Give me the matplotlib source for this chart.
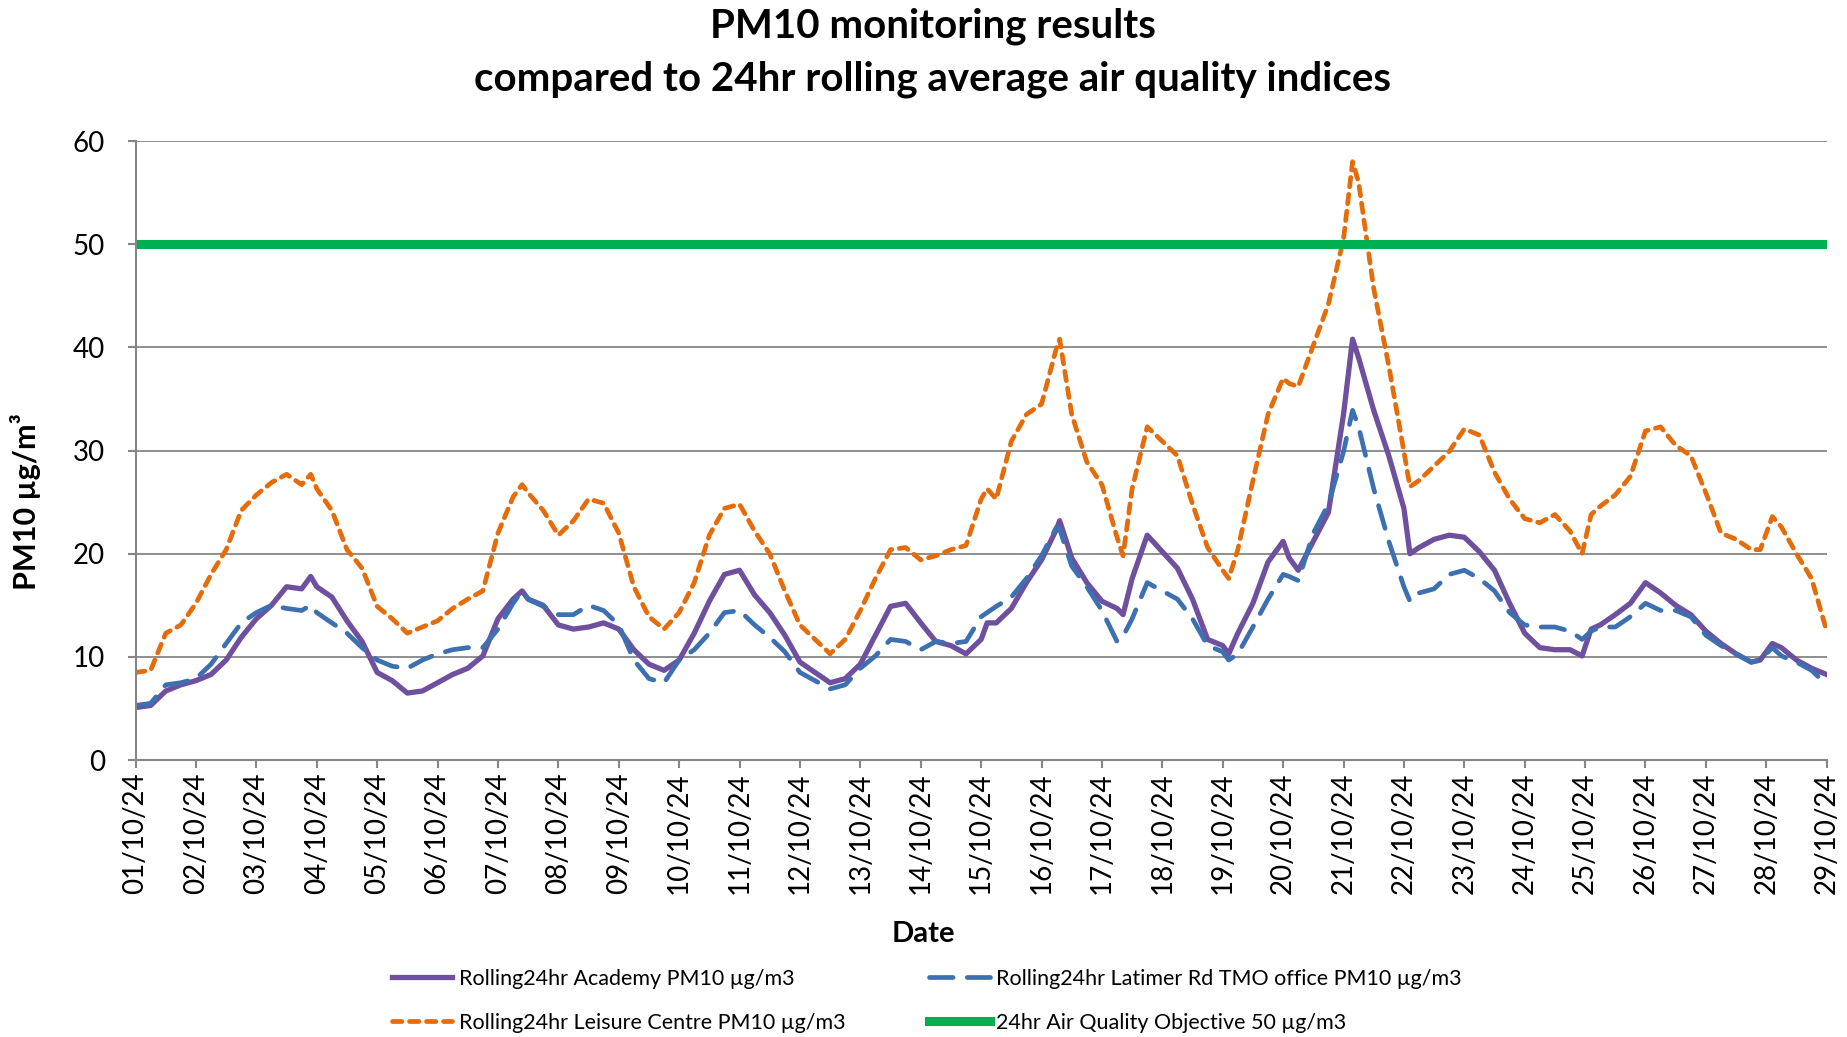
import pandas as pd
import numpy as np
import matplotlib
matplotlib.use('Agg')
import matplotlib.pyplot as plt
import matplotlib.dates as mdates

plt.rcParams['font.family'] = ['Lato', 'DejaVu Sans']

## sample times, in days after 01/10/24 00:00
start = pd.Timestamp('2024-10-01')
days = [0, 0.25, 0.5, 0.75, 1, 1.25, 1.5, 1.75, 2, 2.25, 2.5, 2.75, 2.9, 3, 3.25, 3.5, 3.75,
        4, 4.25, 4.5, 4.75, 5, 5.25, 5.5, 5.75, 6, 6.25, 6.4, 6.5, 6.75, 7, 7.25, 7.5, 7.75,
        8, 8.25, 8.5, 8.75, 9, 9.25, 9.5, 9.75, 10, 10.25, 10.5, 10.75, 11, 11.25, 11.5, 11.75,
        12, 12.25, 12.5, 12.75, 13, 13.25, 13.5, 13.75, 14, 14.1, 14.25, 14.5, 14.75, 15, 15.25, 15.3,
        15.5, 15.75, 16, 16.25, 16.35, 16.5, 16.75, 17, 17.25, 17.5, 17.75, 18, 18.1, 18.25,
        18.5, 18.75, 19, 19.1, 19.25, 19.5, 19.75, 20, 20.15, 20.25, 20.5, 20.75, 21, 21.1,
        21.25, 21.5, 21.75, 22, 22.25, 22.5, 22.75, 23, 23.25, 23.5, 23.75, 23.95, 24.1, 24.25,
        24.5, 24.75, 25, 25.25, 25.5, 25.75, 26, 26.25, 26.5, 26.75, 26.9, 27.1, 27.25, 27.5,
        27.75, 28]

## Rolling 24hr PM10 ug/m3
academy = [5.1, 5.3, 6.7, 7.3, 7.7, 8.3, 9.7, 11.9, 13.7, 15.0, 16.8, 16.6, 17.8, 16.8, 15.8, 13.5, 11.5,
           8.5, 7.7, 6.5, 6.7, 7.5, 8.3, 8.9, 10.1, 13.7, 15.6, 16.4, 15.6, 15.0, 13.1, 12.7, 12.9, 13.3,
           12.7, 10.7, 9.3, 8.7, 9.7, 12.3, 15.4, 18.0, 18.4, 16.0, 14.3, 12.1, 9.5, 8.5, 7.5, 7.9,
           9.3, 12.1, 14.9, 15.2, 13.3, 11.5, 11.1, 10.3, 11.7, 13.3, 13.3, 14.7, 17.2, 19.4, 22.4, 23.2,
           19.6, 17.2, 15.4, 14.7, 14.1, 17.6, 21.8, 20.2, 18.6, 15.6, 11.7, 11.1, 10.3, 12.3,
           15.2, 19.2, 21.2, 19.6, 18.4, 21.2, 24.0, 33.5, 40.8, 39.0, 33.9, 29.5, 24.4, 20.0,
           20.6, 21.4, 21.8, 21.6, 20.2, 18.4, 15.2, 12.3, 10.9, 10.7, 10.7, 10.1, 12.7, 13.1,
           14.1, 15.2, 17.2, 16.2, 15.0, 14.1, 12.5, 11.3, 10.3, 9.5, 9.7, 11.3, 10.9, 9.7,
           8.9, 8.3]
latimer = [5.3, 5.5, 7.3, 7.5, 7.9, 9.3, 11.3, 13.3, 14.3, 15.0, 14.7, 14.5, 15.0, 14.3, 13.3, 12.3, 10.9,
           9.7, 9.1, 8.9, 9.7, 10.3, 10.7, 10.9, 10.9, 12.7, 15.2, 16.4, 15.6, 14.9, 14.1, 14.1, 15.0, 14.5,
           13.1, 9.7, 7.9, 7.5, 9.7, 10.7, 12.3, 14.3, 14.5, 13.1, 11.9, 10.5, 8.5, 7.7, 6.9, 7.3,
           8.9, 10.1, 11.7, 11.5, 10.7, 11.5, 11.3, 11.5, 13.9, 14.3, 14.9, 15.8, 17.6, 19.8, 22.6, 22.4,
           18.8, 16.8, 14.5, 11.5, 12.0, 13.7, 17.2, 16.4, 15.6, 13.7, 11.1, 10.5, 9.7, 10.3,
           12.9, 15.6, 18.0, 17.8, 17.4, 22.0, 24.8, 29.9, 33.9, 32.3, 26.3, 21.2, 16.8, 15.4,
           16.2, 16.6, 18.0, 18.4, 17.6, 16.4, 14.3, 13.1, 12.9, 12.9, 12.5, 11.7, 12.5, 12.9,
           12.9, 13.9, 15.2, 14.5, 14.5, 13.9, 12.1, 11.1, 10.3, 9.5, 9.7, 10.9, 10.1, 9.5,
           8.7, 7.3]
leisure = [8.5, 8.7, 12.3, 13.1, 15.2, 18.0, 20.4, 24.2, 25.7, 26.9, 27.7, 26.7, 27.7, 26.3, 24.2, 20.4, 18.6,
           14.9, 13.7, 12.3, 12.9, 13.5, 14.7, 15.6, 16.4, 22.0, 25.5, 26.7, 25.9, 24.2, 21.8, 23.2, 25.3, 24.9,
           22.0, 16.8, 13.9, 12.7, 14.3, 17.2, 21.8, 24.4, 24.8, 22.2, 20.0, 16.4, 13.1, 11.7, 10.3, 11.7,
           14.5, 17.6, 20.4, 20.6, 19.4, 19.8, 20.4, 20.8, 25.3, 26.3, 25.3, 30.9, 33.5, 34.5, 40.0, 40.8,
           33.5, 28.9, 26.7, 21.6, 19.8, 26.3, 32.3, 30.9, 29.5, 24.8, 20.6, 18.4, 17.6, 20.4,
           27.1, 33.5, 37.0, 36.5, 36.2, 40.2, 44.2, 50.5, 58.0, 56.0, 45.7, 38.2, 29.9, 26.5,
           27.1, 28.5, 29.9, 32.1, 31.5, 27.9, 25.3, 23.4, 23.0, 23.8, 22.2, 20.0, 23.8, 24.6,
           25.7, 27.5, 31.9, 32.3, 30.5, 29.5, 25.9, 22.0, 21.4, 20.4, 20.4, 23.6, 22.6, 20.0,
           17.6, 12.5]
objective = 50

times = start + pd.to_timedelta(days, unit='D')

fig, ax = plt.subplots(figsize=(18.47, 10.37), dpi=100)
fig.subplots_adjust(left=0.0734, right=0.989, bottom=0.267, top=0.864)

l1, = ax.plot(times, academy, color='#6E509E', lw=3.8, solid_joinstyle='round',
              label='Rolling24hr Academy PM10 µg/m3')
l2, = ax.plot(times, latimer, color='#3C70B0', lw=3.4, dashes=(5, 3), dash_capstyle='round',
              label='Rolling24hr Latimer Rd TMO office PM10 µg/m3')
l3, = ax.plot(times, leisure, color='#E46C0A', lw=3.4, dashes=(2, 1.6), dash_capstyle='round',
              label='Rolling24hr Leisure Centre PM10 µg/m3')
l4 = ax.axhline(objective, color='#00B050', lw=6.5, label='24hr Air Quality Objective 50 µg/m3')

ax.set_ylim(0, 60)
ax.set_yticks(np.arange(0, 61, 10))
ax.set_xlim(start, start + pd.Timedelta(days=28))
ax.xaxis.set_major_locator(mdates.DayLocator())
ax.xaxis.set_major_formatter(mdates.DateFormatter('%d/%m/%y'))

ax.grid(axis='y', color='#868686', lw=1.3)
ax.set_axisbelow(True)
for s in ['top', 'right']:
    ax.spines[s].set_visible(False)
for s in ['left', 'bottom']:
    ax.spines[s].set_color('#868686')
    ax.spines[s].set_linewidth(1.5)
ax.tick_params(axis='both', color='#868686', length=6, width=1.5)
ax.tick_params(axis='y', labelsize=20, pad=16)
ax.tick_params(axis='x', labelsize=20, pad=3, labelrotation=90)

# two line title, bold, centred on the figure
fig.text(0.505, 1 - 26 / 1037, 'PM10 monitoring results', ha='center', va='center',
         fontsize=29, fontweight='bold')
fig.text(0.505, 1 - 79 / 1037, 'compared to 24hr rolling average air quality indices',
         ha='center', va='center', fontsize=29, fontweight='bold')
fig.text(0.5, 1 - 934 / 1037, 'Date', ha='center', va='center', fontsize=21, fontweight='bold')
fig.text(26 / 1847, 1 - 502 / 1037, 'PM10 µg/m³', ha='center', va='center', rotation=90,
         fontsize=22, fontweight='bold')

fig.legend(handles=[l1, l3, l2, l4], ncol=2, loc='upper left', frameon=False,
           bbox_to_anchor=(392 / 1847, 1 - 969 / 1037), borderpad=0, borderaxespad=0,
           fontsize=15.5, handlelength=2.8, handletextpad=0.3, columnspacing=3.9, labelspacing=1.1)

plt.savefig('out.png', dpi=100)
